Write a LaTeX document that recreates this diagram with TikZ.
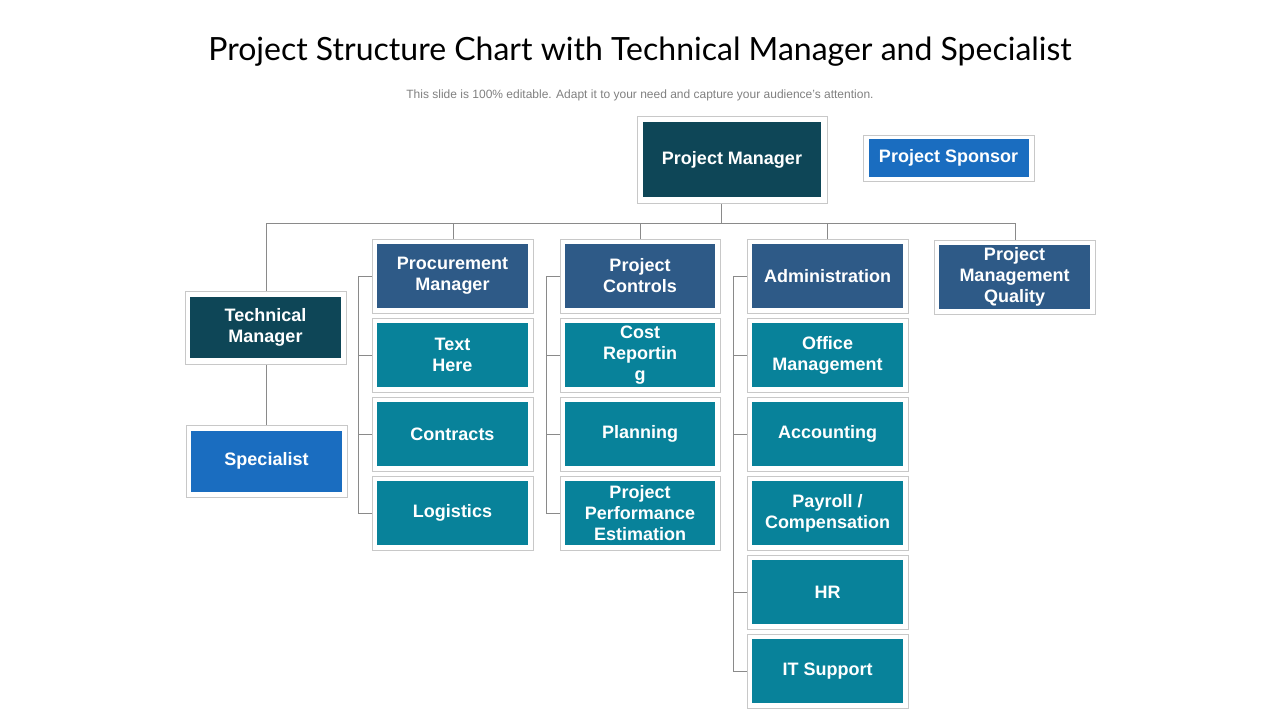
\documentclass[tikz,border=0pt]{standalone}
\usepackage{fontspec}
\setmainfont{Liberation Sans}
\newfontfamily\titlefont{Lato}
\definecolor{darkteal}{HTML}{0E4657}
\definecolor{brightblue}{HTML}{1A6DC0}
\definecolor{slate}{HTML}{2E5A87}
\definecolor{teal}{HTML}{08829A}
\definecolor{frame}{HTML}{C8C8C8}
\definecolor{conn}{HTML}{8A8A8A}
\tikzset{
 outer/.style={draw=frame,line width=0.8pt,fill=white,minimum width=#1,inner sep=0pt},
 inner/.style={fill=#1,text=white,font=\bfseries\fontsize{18}{21}\selectfont,align=center,inner sep=0pt},
 link/.style={draw=conn,line width=0.8pt},
}
\newcommand{\ob}[8]{% name, cx, cy, ow, oh, iw, ih, color, text
 \node[outer=#4,minimum height=#5] (#1) at (#2,#3) {};
 \node[inner=#8,minimum width=#6,minimum height=#7] (#1i) at (#2,#3) {\obtext};}
\begin{document}
\begin{tikzpicture}[x=1pt,y=-1pt]
\useasboundingbox (0,0) rectangle (1280,720);
\node[font=\titlefont\fontsize{32}{36}\selectfont] (title) at (640,52) {Project Structure Chart with Technical Manager and Specialist};
\node[font=\fontsize{12}{14}\selectfont,text=gray] (sub) at (640,95) {This slide is 100\% editable. Adapt it to your need and capture your audience's attention.};
% connectors first
\coordinate (bus) at (721,223);
\draw[link] (721,203) -- (bus);
\draw[link] (266,291) -- (266,223) -- (1015,223) -- (1015,240);
\draw[link] (453,223) -- (453,239);
\draw[link] (640,223) -- (640,239);
\draw[link] (827,223) -- (827,239);
\draw[link] (266,364) -- (266,425);
\foreach \sx/\cx/\last in {358/372/513, 546/560/513, 733/747/671}{
 \draw[link] (\cx,276) -- (\sx,276) -- (\sx,\last) -- (\cx,\last);
 \foreach \yy in {355,434}{\draw[link] (\sx,\yy) -- (\cx,\yy);}
}
\draw[link] (733,592) -- (747,592);
\def\obtext{Project Manager}\ob{pm}{732}{159.5}{190}{87}{178}{75}{darkteal}
\def\obtext{Project Sponsor}\ob{ps}{948.5}{158}{171}{46}{160}{38}{brightblue}
\def\obtext{Technical\\Manager}\ob{tm}{265.5}{327.5}{161}{73}{151}{61}{darkteal}
\def\obtext{Specialist}\ob{sp}{266.5}{461}{161}{72}{151}{61}{brightblue}
% column 2
\def\obtext{Procurement\\Manager}\ob{c2a}{452.5}{276}{161}{74}{151}{64}{slate}
\def\obtext{Text\\Here}\ob{c2b}{452.5}{355}{161}{74}{151}{64}{teal}
\def\obtext{Contracts}\ob{c2c}{452.5}{434}{161}{74}{151}{64}{teal}
\def\obtext{Logistics}\ob{c2d}{452.5}{513}{161}{74}{151}{64}{teal}
% column 3
\def\obtext{Project\\Controls}\ob{c3a}{640}{276}{160}{74}{150}{64}{slate}
\def\obtext{Cost\\Reportin\\g}\ob{c3b}{640}{355}{160}{74}{150}{64}{teal}
\def\obtext{Planning}\ob{c3c}{640}{434}{160}{74}{150}{64}{teal}
\def\obtext{Project\\Performance\\Estimation}\ob{c3d}{640}{513}{160}{74}{150}{64}{teal}
% column 4
\def\obtext{Administration}\ob{c4a}{827.5}{276}{161}{74}{151}{64}{slate}
\def\obtext{Office\\Management}\ob{c4b}{827.5}{355}{161}{74}{151}{64}{teal}
\def\obtext{Accounting}\ob{c4c}{827.5}{434}{161}{74}{151}{64}{teal}
\def\obtext{Payroll /\\Compensation}\ob{c4d}{827.5}{513}{161}{74}{151}{64}{teal}
\def\obtext{HR}\ob{c4e}{827.5}{592}{161}{74}{151}{64}{teal}
\def\obtext{IT Support}\ob{c4f}{827.5}{671}{161}{74}{151}{64}{teal}
% column 5
\def\obtext{Project\\Management\\Quality}\ob{c5a}{1014.5}{277}{161}{74}{151}{64}{slate}
\end{tikzpicture}
\end{document}
